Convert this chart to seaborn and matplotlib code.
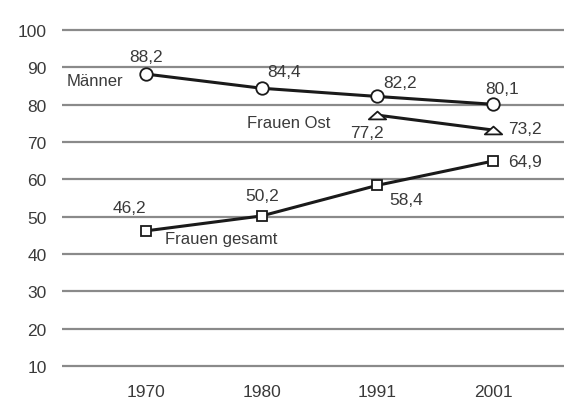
import numpy as np
import pandas as pd
import matplotlib
matplotlib.use("Agg")
import matplotlib.pyplot as plt
from matplotlib.path import Path
import seaborn as sns

# --- data ---
years = ["1970", "1980", "1991", "2001"]
maenner = [88.2, 84.4, 82.2, 80.1]
frauen_ost = [np.nan, np.nan, 77.2, 73.2]
frauen_gesamt = [46.2, 50.2, 58.4, 64.9]
series_names = ["Männer", "Frauen Ost", "Frauen gesamt"]
y_ticks = [10, 20, 30, 40, 50, 60, 70, 80, 90, 100]

sns.set_theme(style="white")
plt.rcParams["font.family"] = ["Liberation Sans", "DejaVu Sans"]
TXT = "#3a3a3a"
FS = 12.5

rows = []
for name, vals in zip(series_names, [maenner, frauen_ost, frauen_gesamt]):
    for i, v in enumerate(vals):
        rows.append({"pos": i, "wert": v, "serie": name})
df = pd.DataFrame(rows).dropna()

# flat triangle marker like in the reference
flat_tri = Path([(-1, -0.45), (1, -0.45), (0, 0.45), (-1, -0.45)],
                [Path.MOVETO, Path.LINETO, Path.LINETO, Path.CLOSEPOLY])

fig = plt.figure(figsize=(5.64, 4.02), dpi=100)
# axes in pixels: x 62..564, y 20..378
ax = fig.add_axes([62 / 564, 24 / 402, 502 / 564, 358 / 402])

for v in y_ticks:
    ax.axhline(v, color="#8a8a8a", lw=1.6, zorder=0)

common = dict(color="#1a1a1a", lw=2.2, markerfacecolor="white",
              markeredgecolor="#1a1a1a", markeredgewidth=1.3, zorder=3)
sns.lineplot(data=df[df["serie"] == "Männer"], x="pos", y="wert",
             marker="o", markersize=9, ax=ax, **common)
sns.lineplot(data=df[df["serie"] == "Frauen Ost"], x="pos", y="wert",
             marker=flat_tri, markersize=12.5, ax=ax, **common)
sns.lineplot(data=df[df["serie"] == "Frauen gesamt"], x="pos", y="wert",
             marker="s", markersize=7.7, ax=ax, **common)

ax.set_xlim(-0.726, 3.613)
ax.set_ylim(7.05, 102.95)
ax.set_xticks(range(len(years)))
ax.set_xticklabels(years)
ax.set_yticks(y_ticks)
ax.tick_params(axis="both", length=0, labelsize=FS, colors=TXT)
ax.tick_params(axis="x", pad=5)
ax.tick_params(axis="y", pad=11)
ax.set_xlabel("")
ax.set_ylabel("")
for s in ax.spines.values():
    s.set_visible(False)


def lab(txt, x, y, dx, dy, ha="center", fs=FS):
    ax.annotate(txt, (x, y), xytext=(dx, dy), textcoords="offset pixels",
                ha=ha, va="center", fontsize=fs, color=TXT)


fmt = lambda v: f"{v:.1f}".replace(".", ",")

# value labels
for i, (dx, dy) in enumerate([(0, 18), (22, 17), (23, 14), (9, 16)]):
    lab(fmt(maenner[i]), i, maenner[i], dx, dy)
for i, (dx, dy) in zip([2, 3], [(-10, -17), (32, 2)]):
    lab(fmt(frauen_ost[i]), i, frauen_ost[i], dx, dy)
for i, (dx, dy) in enumerate([(-17, 23), (0, 20), (29, -14), (32, 0)]):
    lab(fmt(frauen_gesamt[i]), i, frauen_gesamt[i], dx, dy)

# series names
lab("Männer", 0, maenner[0], -23, -6, ha="right", fs=12)
lab("Frauen Ost", 2, frauen_ost[2], -47, -7, ha="right", fs=12)
lab("Frauen gesamt", 0, frauen_gesamt[0], 19, -8, ha="left", fs=12)

fig.savefig("out.png", dpi=100)
